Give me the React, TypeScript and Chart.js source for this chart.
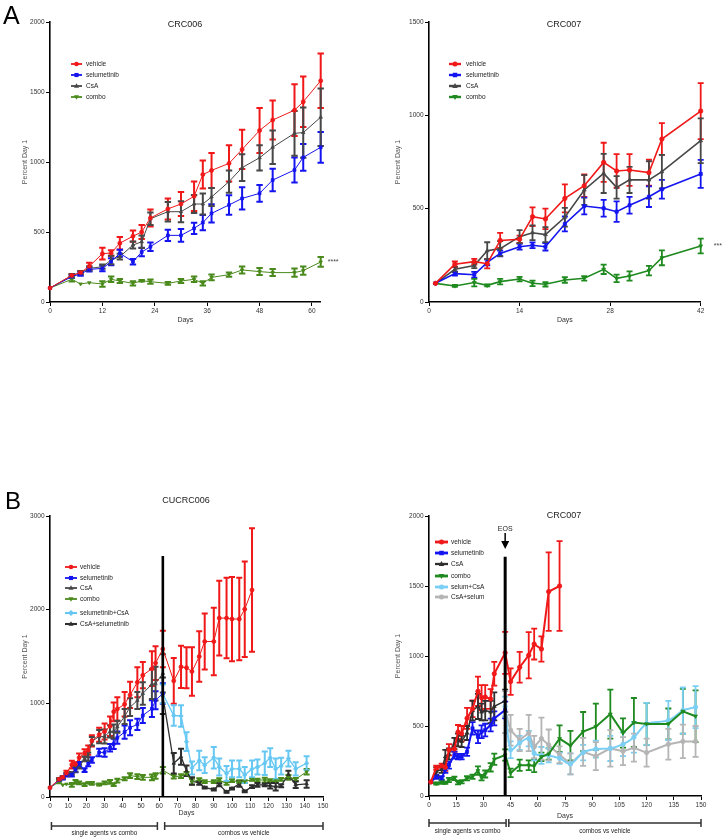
import React, { useEffect, useRef } from 'react';
import { Chart, registerables } from 'chart.js';
Chart.register(...registerables);

const FONT = '"Liberation Sans", Arial, Helvetica, sans-serif';

// ---------- Panel A (left): CRC006 ----------
const A1_DAYS = [0, 5, 7, 9, 12, 14, 16, 19, 21, 23, 27, 30, 33, 35, 37, 41, 44, 48, 51, 56, 58, 62];
const A1_VEHICLE = [100, 190, 210, 255, 345, 350, 420, 470, 500, 600, 665, 700, 755, 910, 940, 990, 1090, 1225, 1300, 1370, 1430, 1580];
const A1_VEHICLE_ERR = [0, 10, 12, 25, 42, 20, 45, 40, 50, 60, 75, 85, 105, 100, 125, 130, 140, 160, 140, 185, 180, 195];
const A1_SELUM = [100, 181, 200, 233, 240, 288, 348, 288, 357, 395, 476, 476, 526, 567, 633, 693, 740, 776, 871, 943, 1033, 1105];
const A1_SELUM_ERR = [0, 10, 12, 15, 20, 25, 25, 20, 30, 30, 40, 45, 40, 55, 65, 70, 80, 60, 80, 90, 95, 110];
const A1_CSA = [100, 190, 210, 240, 252, 300, 324, 407, 430, 595, 645, 645, 700, 700, 750, 860, 960, 1030, 1105, 1205, 1210, 1320];
const A1_CSA_ERR = [0, 10, 12, 15, 15, 30, 20, 25, 45, 45, 70, 75, 65, 75, 65, 80, 95, 90, 120, 160, 180, 205];
const A1_COMBO = [100, 162, 129, 138, 129, 162, 150, 133, 152, 145, 133, 150, 162, 133, 176, 195, 229, 217, 210, 210, 224, 286];
const A1_COMBO_ERR = [0, 15, 0, 0, 20, 20, 15, 15, 5, 15, 10, 15, 20, 15, 20, 15, 25, 25, 25, 30, 30, 35];
const A1_X_TICKS = [0, 12, 24, 36, 48, 60];
const A1_Y_TICKS = [0, 500, 1000, 1500, 2000];

// ---------- Panel A (right): CRC007 ----------
const A2_DAYS = [1, 4, 7, 9, 11, 14, 16, 18, 21, 24, 27, 29, 31, 34, 36, 42];
const A2_VEHICLE = [100, 202, 216, 205, 330, 336, 457, 445, 555, 623, 748, 702, 707, 693, 873, 1023];
const A2_VEHICLE_ERR = [0, 15, 15, 25, 40, 20, 50, 55, 75, 60, 105, 90, 85, 70, 85, 150];
const A2_SELUM = [100, 152, 146, 212, 260, 296, 304, 296, 418, 514, 502, 484, 518, 564, 604, 686];
const A2_SELUM_ERR = [0, 10, 15, 15, 15, 15, 15, 20, 40, 45, 45, 55, 45, 55, 50, 75];
const A2_CSA = [100, 175, 196, 275, 286, 350, 371, 361, 454, 600, 689, 614, 654, 654, 698, 864];
const A2_CSA_ERR = [0, 15, 15, 45, 40, 35, 40, 40, 50, 80, 105, 60, 70, 100, 90, 120];
const A2_COMBO = [100, 86, 104, 89, 109, 123, 100, 95, 118, 127, 175, 127, 139, 168, 237, 300];
const A2_COMBO_ERR = [0, 5, 20, 5, 15, 12, 15, 12, 15, 12, 25, 20, 25, 25, 40, 40];
const A2_X_TICKS = [0, 14, 28, 42];
const A2_Y_TICKS = [0, 500, 1000, 1500];

// ---------- Panel B (left): CUCRC006 ----------
const B1_VEH_DAYS_LATE = [68, 72, 75, 78, 82, 85, 90, 93, 97, 100, 104, 107, 111];
const B1_VEH_LATE = [1240, 1390, 1380, 1340, 1500, 1660, 1660, 1910, 1910, 1900, 1900, 2005, 2210];
const B1_VEH_LATE_ERR = [245, 225, 220, 260, 270, 300, 360, 400, 430, 450, 440, 510, 660];
const B1_LATE_DAYS = [68, 72, 75, 78, 82, 85, 90, 93, 97, 100, 104, 107, 111, 114, 118, 121, 124, 127, 131, 135, 141];
const B1_COMBO_LATE = [217, 224, 246, 164, 181, 164, 164, 181, 146, 174, 164, 164, 189, 181, 181, 174, 174, 189, 210, 189, 270];
const B1_COMBO_LATE_ERR = [20, 20, 20, 30, 20, 15, 15, 20, 15, 15, 15, 15, 15, 15, 25, 15, 15, 15, 25, 15, 30];
const B1_SWITCH_DAYS = [62, 68, 72, 75, 78, 82, 85, 90, 93, 97, 100, 104, 107, 111, 114, 118, 121, 124, 127, 131, 135, 141];
const B1_SELUM_CSA = [1100, 870, 865, 590, 310, 390, 340, 420, 320, 250, 300, 300, 235, 300, 320, 360, 420, 300, 330, 410, 300, 360];
const B1_SELUM_CSA_ERR = [100, 110, 115, 100, 70, 105, 85, 115, 90, 80, 90, 90, 85, 90, 80, 125, 100, 110, 90, 85, 70, 75];
const B1_CSA_SELUM = [1080, 360, 430, 280, 170, 150, 100, 80, 130, 55, 90, 140, 60, 110, 130, 130, 120, 110, 120, 240, 130, 140];
const B1_CSA_SELUM_ERR = [195, 110, 85, 55, 40, 20, 10, 10, 15, 10, 10, 30, 10, 15, 20, 15, 30, 40, 15, 40, 35, 40];
const B1_X_TICKS = [0, 10, 20, 30, 40, 50, 60, 70, 80, 90, 100, 110, 120, 130, 140, 150];
const B1_Y_TICKS = [0, 1000, 2000, 3000];

// ---------- Panel B (right): CRC007 ----------
const B2_DAYS = [1, 4, 7, 9, 11, 14, 16, 18, 21, 24, 27, 29, 31, 34, 36, 42];
const B2_VEH_DAYS_LATE = [45, 50, 55, 58, 62, 66, 72];
const B2_VEH_LATE = [817, 920, 1005, 1085, 1050, 1460, 1500];
const B2_VEH_LATE_ERR = [95, 110, 165, 110, 90, 280, 320];
const B2_SELUM = [100, 138, 126, 190, 221, 292, 281, 281, 316, 483, 423, 459, 471, 507, 554, 614];
const B2_SELUM_ERR = [0, 15, 15, 25, 25, 25, 20, 20, 30, 45, 45, 45, 45, 45, 50, 60];
const B2_CSA = [100, 175, 190, 280, 300, 375, 400, 390, 450, 610, 640, 600, 610, 600, 640, 680];
const B2_CSA_ERR = [0, 30, 25, 50, 40, 40, 45, 40, 50, 70, 90, 60, 70, 80, 100, 80];
const B2_COMBO = [100, 90, 102, 95, 114, 126, 95, 102, 126, 138, 181, 131, 157, 205, 262, 293];
const B2_COMBO_ERR = [0, 8, 15, 8, 15, 12, 12, 12, 15, 15, 30, 20, 25, 30, 40, 40];
const B2_LATE_DAYS = [45, 50, 55, 58, 62, 66, 72, 78, 85, 92, 100, 107, 113, 120, 132, 140, 147];
const B2_COMBO_LATE = [165, 220, 220, 215, 280, 300, 410, 360, 460, 495, 585, 450, 525, 515, 515, 605, 570];
const B2_COMBO_LATE_ERR = [30, 40, 35, 45, 30, 40, 95, 105, 140, 165, 175, 105, 175, 150, 110, 160, 185];
const B2_SWITCH_DAYS = [42, 45, 50, 55, 58, 62, 66, 72, 78, 85, 92, 100, 107, 113, 120, 132, 140, 147];
const B2_SELUM_CSA = [640, 330, 380, 410, 305, 290, 290, 270, 230, 310, 335, 340, 370, 420, 515, 540, 610, 635];
const B2_SELUM_CSA_ERR = [70, 60, 50, 55, 50, 60, 50, 40, 75, 55, 60, 90, 85, 110, 150, 140, 165, 150];
const B2_CSA_SELUM = [600, 470, 400, 450, 350, 410, 365, 295, 230, 315, 285, 340, 320, 345, 310, 370, 390, 390];
const B2_CSA_SELUM_ERR = [150, 110, 80, 130, 80, 150, 110, 60, 75, 100, 100, 130, 100, 100, 100, 110, 120, 110];
const B2_X_TICKS = [0, 15, 30, 45, 60, 75, 90, 105, 120, 135, 150];
const B2_Y_TICKS = [0, 500, 1000, 1500, 2000];

// ---------- colours ----------
const RED = '#f01818';
const BLUE = '#1414f0';
const GRAY = '#474747';
const OLIVE = '#4a8a1c';
const GREEN = '#1f8a1f';
const SKY = '#66c8f2';
const DARK = '#2e2e2e';
const LIGHTGRAY = '#b5b5b5';

type Series = {
  label: string; days: number[]; values: number[]; errors: number[]; color: string;
  point: string; rot?: number; radius: number; lineWidth: number; errWidth: number; errCap: number; tension?: number;
};

function ser(label: string, days: number[], values: number[], errors: number[], color: string, point: string, style: any): Series {
  return { label, days, values, errors, color, point, ...style };
}

function drawMarker(ctx: any, style: string, x: number, y: number, r: number, rot: number) {
  ctx.beginPath();
  if (style === 'circle') ctx.arc(x, y, r, 0, Math.PI * 2);
  else if (style === 'rect') ctx.rect(x - r * 0.9, y - r * 0.9, r * 1.8, r * 1.8);
  else if (style === 'rectRot') {
    ctx.moveTo(x, y - r * 1.2); ctx.lineTo(x + r * 1.2, y); ctx.lineTo(x, y + r * 1.2); ctx.lineTo(x - r * 1.2, y); ctx.closePath();
  } else {
    const s = rot ? -1 : 1;
    ctx.moveTo(x, y - s * r * 1.2); ctx.lineTo(x + r * 1.1, y + s * r * 0.8); ctx.lineTo(x - r * 1.1, y + s * r * 0.8); ctx.closePath();
  }
  ctx.fill();
}

const errorBars = {
  id: 'errorBars',
  beforeDatasetsDraw(chart: any) {
    const ctx = chart.ctx;
    const ys = chart.scales.y;
    chart.data.datasets.forEach((ds: any, i: number) => {
      const meta = chart.getDatasetMeta(i);
      if (!ds.errors) return;
      ctx.save();
      ctx.strokeStyle = ds.borderColor;
      ctx.lineWidth = ds.errWidth;
      meta.data.forEach((pt: any, j: number) => {
        const e = ds.errors[j];
        if (!e) return;
        const v = ds.data[j].y;
        const yt = ys.getPixelForValue(v + e);
        const yb = ys.getPixelForValue(v - e);
        const x = pt.x;
        const c = ds.errCap;
        ctx.beginPath();
        ctx.moveTo(x, yt); ctx.lineTo(x, yb);
        ctx.moveTo(x - c, yt); ctx.lineTo(x + c, yt);
        ctx.moveTo(x - c, yb); ctx.lineTo(x + c, yb);
        ctx.stroke();
      });
      ctx.restore();
    });
  },
};

type Spec = {
  box: { left: number; top: number; width: number; height: number };
  area: { left: number; top: number; right: number; bottom: number };
  xMax: number; yMax: number; xTicks: number[]; yTicks: number[];
  yTitleX: number; daysY: number;
  series: Series[];
  legend: { lx: number; len: number; tx: number; rows: number[] };
  draw: (ctx: any, chart: any, P: (x: number, y: number) => [number, number]) => void;
};

function text(ctx: any, s: string, x: number, y: number, size: number, align: string, color = '#222', weight = '') {
  ctx.font = `${weight} ${size}px ${FONT}`;
  ctx.fillStyle = color;
  ctx.textAlign = align;
  ctx.textBaseline = 'middle';
  ctx.fillText(s, x, y);
}

function bracket(ctx: any, x0: number, x1: number, y: number) {
  ctx.strokeStyle = '#333';
  ctx.lineWidth = 1.5;
  ctx.beginPath();
  ctx.moveTo(x0, y); ctx.lineTo(x1, y);
  ctx.moveTo(x0, y - 4); ctx.lineTo(x0, y + 4);
  ctx.moveTo(x1, y - 4); ctx.lineTo(x1, y + 4);
  ctx.stroke();
}

function extras(spec: Spec) {
  return {
    id: 'extras',
    afterDraw(chart: any) {
      const ctx = chart.ctx;
      const P = (x: number, y: number): [number, number] => [x - spec.box.left, y - spec.box.top];
      ctx.save();
      spec.draw(ctx, chart, P);
      const L = spec.legend;
      spec.series.forEach((s, i) => {
        const [x0, y0] = P(L.lx, L.rows[i]);
        ctx.strokeStyle = s.color;
        ctx.fillStyle = s.color;
        ctx.lineWidth = s.lineWidth + 0.8;
        ctx.beginPath();
        ctx.moveTo(x0, y0); ctx.lineTo(x0 + L.len, y0);
        ctx.stroke();
        drawMarker(ctx, s.point, x0 + L.len / 2, y0, s.radius + 0.3, s.rot || 0);
        const [tx] = P(L.tx, 0);
        text(ctx, s.label, tx, y0, 6.5, 'left', '#222');
      });
      ctx.restore();
    },
  };
}

function buildConfig(spec: Spec) {
  const { box, area } = spec;
  const yW = 40;
  const xH = spec.daysY - area.bottom + 5;
  const datasets = spec.series.map((s) => ({
    label: s.label,
    data: s.days.map((d, i) => ({ x: d, y: s.values[i] })),
    errors: s.errors,
    errWidth: s.errWidth,
    errCap: s.errCap,
    borderColor: s.color,
    backgroundColor: s.color,
    borderWidth: s.lineWidth,
    pointStyle: s.point,
    pointRotation: s.rot || 0,
    pointRadius: s.radius,
    pointBorderWidth: 0.8,
    tension: s.tension || 0,
    clip: false,
  }));
  const tickFont = { family: FONT, size: 6.5 };
  const grid = { drawOnChartArea: false, drawTicks: true, tickLength: 4, color: '#000', lineWidth: 1 };
  const border = { display: true, color: '#000', width: 1.6 };
  return {
    type: 'line',
    data: { datasets },
    options: {
      animation: false,
      responsive: false,
      devicePixelRatio: 1,
      events: [],
      layout: {
        padding: {
          left: area.left - box.left - yW,
          top: area.top - box.top,
          right: box.left + box.width - area.right,
          bottom: box.top + box.height - area.bottom - xH,
        },
      },
      plugins: { legend: { display: false }, tooltip: { enabled: false }, title: { display: false } },
      scales: {
        x: {
          type: 'linear', min: 0, max: spec.xMax,
          afterBuildTicks: (s: any) => { s.ticks = spec.xTicks.map((v) => ({ value: v })); },
          afterFit: (s: any) => { s.height = xH; },
          ticks: { autoSkip: false, maxRotation: 0, minRotation: 0, font: tickFont, color: '#333', padding: 1.5, callback: (v: any) => String(v) },
          grid, border,
          title: { display: true, text: 'Days', font: { family: FONT, size: 7 }, color: '#333', padding: { top: 0, bottom: 0.8 } },
        },
        y: {
          type: 'linear', min: 0, max: spec.yMax,
          afterBuildTicks: (s: any) => { s.ticks = spec.yTicks.map((v) => ({ value: v })); },
          afterFit: (s: any) => { s.width = yW; },
          ticks: { autoSkip: false, font: tickFont, color: '#333', padding: 1.5, callback: (v: any) => String(v) },
          grid, border,
          title: {
            display: true, text: 'Percent Day 1', font: { family: FONT, size: 7 }, color: '#555',
            padding: { top: spec.yTitleX - (area.left - yW) - 4.2, bottom: 0 },
          },
        },
      },
    },
    plugins: [errorBars, extras(spec)],
  };
}

const styA1 = { radius: 2, lineWidth: 1, errWidth: 2, errCap: 3.2 };
const styA2 = { radius: 2.2, lineWidth: 1.6, errWidth: 1.8, errCap: 3 };
const styB1 = { radius: 2, lineWidth: 1, errWidth: 2, errCap: 3 };
const styB2 = { radius: 2.2, lineWidth: 2, errWidth: 1.8, errCap: 3 };

const specs: Spec[] = [
  {
    box: { left: 0, top: 0, width: 364, height: 340 },
    area: { left: 50, top: 22, right: 320.7, bottom: 302 },
    xMax: 62, yMax: 2000, xTicks: A1_X_TICKS, yTicks: A1_Y_TICKS, yTitleX: 25, daysY: 320,
    series: [
      ser('vehicle', A1_DAYS, A1_VEHICLE, A1_VEHICLE_ERR, RED, 'circle', styA1),
      ser('selumetinib', A1_DAYS, A1_SELUM, A1_SELUM_ERR, BLUE, 'rect', styA1),
      ser('CsA', A1_DAYS, A1_CSA, A1_CSA_ERR, GRAY, 'triangle', styA1),
      ser('combo', A1_DAYS, A1_COMBO, A1_COMBO_ERR, OLIVE, 'triangle', { ...styA1, rot: 180 }),
    ],
    legend: { lx: 71, len: 11, tx: 86, rows: [64, 75, 86, 97] },
    draw: (ctx, chart, P) => {
      const xs = chart.scales.x, ys = chart.scales.y;
      ctx.font = `25px ${FONT}`; ctx.fillStyle = '#000'; ctx.textAlign = 'left'; ctx.textBaseline = 'alphabetic';
      const [ax, ay] = P(3, 24); ctx.fillText('A', ax, ay);
      const [tx, ty] = P(185, 25); text(ctx, 'CRC006', tx, ty, 9, 'center', '#222');
      text(ctx, '****', xs.getPixelForValue(62) + 7, ys.getPixelForValue(286), 7, 'left', '#444');
    },
  },
  {
    box: { left: 364, top: 0, width: 364, height: 340 },
    area: { left: 429, top: 22, right: 700.7, bottom: 302 },
    xMax: 42, yMax: 1500, xTicks: A2_X_TICKS, yTicks: A2_Y_TICKS, yTitleX: 398, daysY: 320,
    series: [
      ser('vehicle', A2_DAYS, A2_VEHICLE, A2_VEHICLE_ERR, RED, 'circle', styA2),
      ser('selumetinib', A2_DAYS, A2_SELUM, A2_SELUM_ERR, BLUE, 'rect', styA2),
      ser('CsA', A2_DAYS, A2_CSA, A2_CSA_ERR, GRAY, 'triangle', styA2),
      ser('combo', A2_DAYS, A2_COMBO, A2_COMBO_ERR, GREEN, 'triangle', { ...styA2, rot: 180 }),
    ],
    legend: { lx: 449, len: 12, tx: 466, rows: [64, 75, 86, 97] },
    draw: (ctx, chart, P) => {
      const xs = chart.scales.x, ys = chart.scales.y;
      const [tx, ty] = P(564, 25); text(ctx, 'CRC007', tx, ty, 9, 'center', '#222');
      text(ctx, '***', xs.getPixelForValue(42) + 13, ys.getPixelForValue(300), 7, 'left', '#444');
    },
  },
  {
    box: { left: 0, top: 470, width: 364, height: 370 },
    area: { left: 50, top: 516, right: 323, bottom: 797 },
    xMax: 150, yMax: 3000, xTicks: B1_X_TICKS, yTicks: B1_Y_TICKS, yTitleX: 25, daysY: 813,
    series: [
      ser('vehicle', [...A1_DAYS, ...B1_VEH_DAYS_LATE], [...A1_VEHICLE, ...B1_VEH_LATE], [...A1_VEHICLE_ERR, ...B1_VEH_LATE_ERR], RED, 'circle', styB1),
      ser('selumetinib', A1_DAYS, A1_SELUM, A1_SELUM_ERR, BLUE, 'rect', styB1),
      ser('CsA', A1_DAYS, A1_CSA, A1_CSA_ERR, GRAY, 'triangle', styB1),
      ser('combo', [...A1_DAYS, ...B1_LATE_DAYS], [...A1_COMBO, ...B1_COMBO_LATE], [...A1_COMBO_ERR, ...B1_COMBO_LATE_ERR], OLIVE, 'triangle', { ...styB1, rot: 180 }),
      ser('selumetinib+CsA', B1_SWITCH_DAYS, B1_SELUM_CSA, B1_SELUM_CSA_ERR, SKY, 'rectRot', { ...styB1, lineWidth: 1.3, radius: 2.2 }),
      ser('CsA+selumetinib', B1_SWITCH_DAYS, B1_CSA_SELUM, B1_CSA_SELUM_ERR, DARK, 'triangle', { ...styB1, lineWidth: 1.3 }),
    ],
    legend: { lx: 65, len: 12, tx: 80, rows: [567, 578, 588, 599, 613, 624] },
    draw: (ctx, chart, P) => {
      const xs = chart.scales.x, ys = chart.scales.y;
      ctx.font = `24px ${FONT}`; ctx.fillStyle = '#000'; ctx.textAlign = 'left'; ctx.textBaseline = 'alphabetic';
      const [bx, by] = P(5, 509); ctx.fillText('B', bx, by);
      const [tx, ty] = P(186, 501); text(ctx, 'CUCRC006', tx, ty, 9, 'center', '#222');
      const vx = xs.getPixelForValue(62);
      ctx.strokeStyle = '#000'; ctx.lineWidth = 2.6;
      ctx.beginPath(); ctx.moveTo(vx, ys.getPixelForValue(2573)); ctx.lineTo(vx, ys.getPixelForValue(0)); ctx.stroke();
      const [, byy] = P(0, 826);
      bracket(ctx, xs.getPixelForValue(0.8), xs.getPixelForValue(59), byy);
      bracket(ctx, xs.getPixelForValue(63), xs.getPixelForValue(150), byy);
      const [, ly] = P(0, 833);
      text(ctx, 'single agents vs combo', (xs.getPixelForValue(0.8) + xs.getPixelForValue(59)) / 2, ly, 6.3, 'center', '#222');
      text(ctx, 'combos vs vehicle', (xs.getPixelForValue(63) + xs.getPixelForValue(150)) / 2, ly, 6.3, 'center', '#222');
    },
  },
  {
    box: { left: 364, top: 470, width: 364, height: 370 },
    area: { left: 429, top: 516, right: 701, bottom: 796 },
    xMax: 150, yMax: 2000, xTicks: B2_X_TICKS, yTicks: B2_Y_TICKS, yTitleX: 398, daysY: 816,
    series: [
      ser('vehicle', [...B2_DAYS, ...B2_VEH_DAYS_LATE], [...A2_VEHICLE, ...B2_VEH_LATE], [...A2_VEHICLE_ERR, ...B2_VEH_LATE_ERR], RED, 'circle', styB2),
      ser('selumetinib', B2_DAYS, B2_SELUM, B2_SELUM_ERR, BLUE, 'rect', styB2),
      ser('CsA', B2_DAYS, B2_CSA, B2_CSA_ERR, DARK, 'triangle', { ...styB2, lineWidth: 1.5 }),
      ser('combo', [...B2_DAYS, ...B2_LATE_DAYS], [...B2_COMBO, ...B2_COMBO_LATE], [...B2_COMBO_ERR, ...B2_COMBO_LATE_ERR], GREEN, 'triangle', { ...styB2, rot: 180 }),
      ser('selum+CsA', B2_SWITCH_DAYS, B2_SELUM_CSA, B2_SELUM_CSA_ERR, '#7ccff4', 'circle', { ...styB2, tension: 0.3 }),
      ser('CsA+selum', B2_SWITCH_DAYS, B2_CSA_SELUM, B2_CSA_SELUM_ERR, LIGHTGRAY, 'circle', styB2),
    ],
    legend: { lx: 435, len: 13, tx: 451, rows: [542, 553, 564, 576, 587, 597] },
    draw: (ctx, chart, P) => {
      const xs = chart.scales.x, ys = chart.scales.y;
      const [tx, ty] = P(564, 516); text(ctx, 'CRC007', tx, ty, 9, 'center', '#222');
      const vx = xs.getPixelForValue(42);
      ctx.strokeStyle = '#000'; ctx.lineWidth = 3;
      ctx.beginPath(); ctx.moveTo(vx, ys.getPixelForValue(1709)); ctx.lineTo(vx, ys.getPixelForValue(0)); ctx.stroke();
      const [, ey] = P(0, 529); text(ctx, 'EOS', vx, ey, 7, 'center', '#222');
      const [, a0] = P(0, 533); const [, a1] = P(0, 549);
      ctx.lineWidth = 1.5; ctx.beginPath(); ctx.moveTo(vx, a0); ctx.lineTo(vx, a1 - 6); ctx.stroke();
      ctx.fillStyle = '#000'; ctx.beginPath(); ctx.moveTo(vx - 4, a1 - 8); ctx.lineTo(vx + 4, a1 - 8); ctx.lineTo(vx, a1); ctx.closePath(); ctx.fill();
      const [, byy] = P(0, 823);
      bracket(ctx, xs.getPixelForValue(0), xs.getPixelForValue(42.5), byy);
      bracket(ctx, xs.getPixelForValue(44), xs.getPixelForValue(150), byy);
      const [, ly] = P(0, 831);
      text(ctx, 'single agents vs combo', (xs.getPixelForValue(0) + xs.getPixelForValue(42.5)) / 2, ly, 6.3, 'center', '#222');
      text(ctx, 'combos vs vehicle', (xs.getPixelForValue(44) + xs.getPixelForValue(150)) / 2, ly, 6.3, 'center', '#222');
    },
  },
];

function Panel({ spec }: { spec: Spec }) {
  const ref = useRef<HTMLCanvasElement | null>(null);
  useEffect(() => {
    const chart = new Chart(ref.current as any, buildConfig(spec) as any);
    return () => chart.destroy();
  }, [spec]);
  return (
    <canvas
      ref={ref}
      width={spec.box.width}
      height={spec.box.height}
      style={{ position: 'absolute', left: spec.box.left, top: spec.box.top, width: spec.box.width, height: spec.box.height }}
    />
  );
}

export default function App() {
  return (
    <div style={{ position: 'absolute', left: 0, top: 0, width: 728, height: 840, background: '#fff', overflow: 'hidden' }}>
      {specs.map((s, i) => (
        <Panel key={i} spec={s} />
      ))}
    </div>
  );
}
